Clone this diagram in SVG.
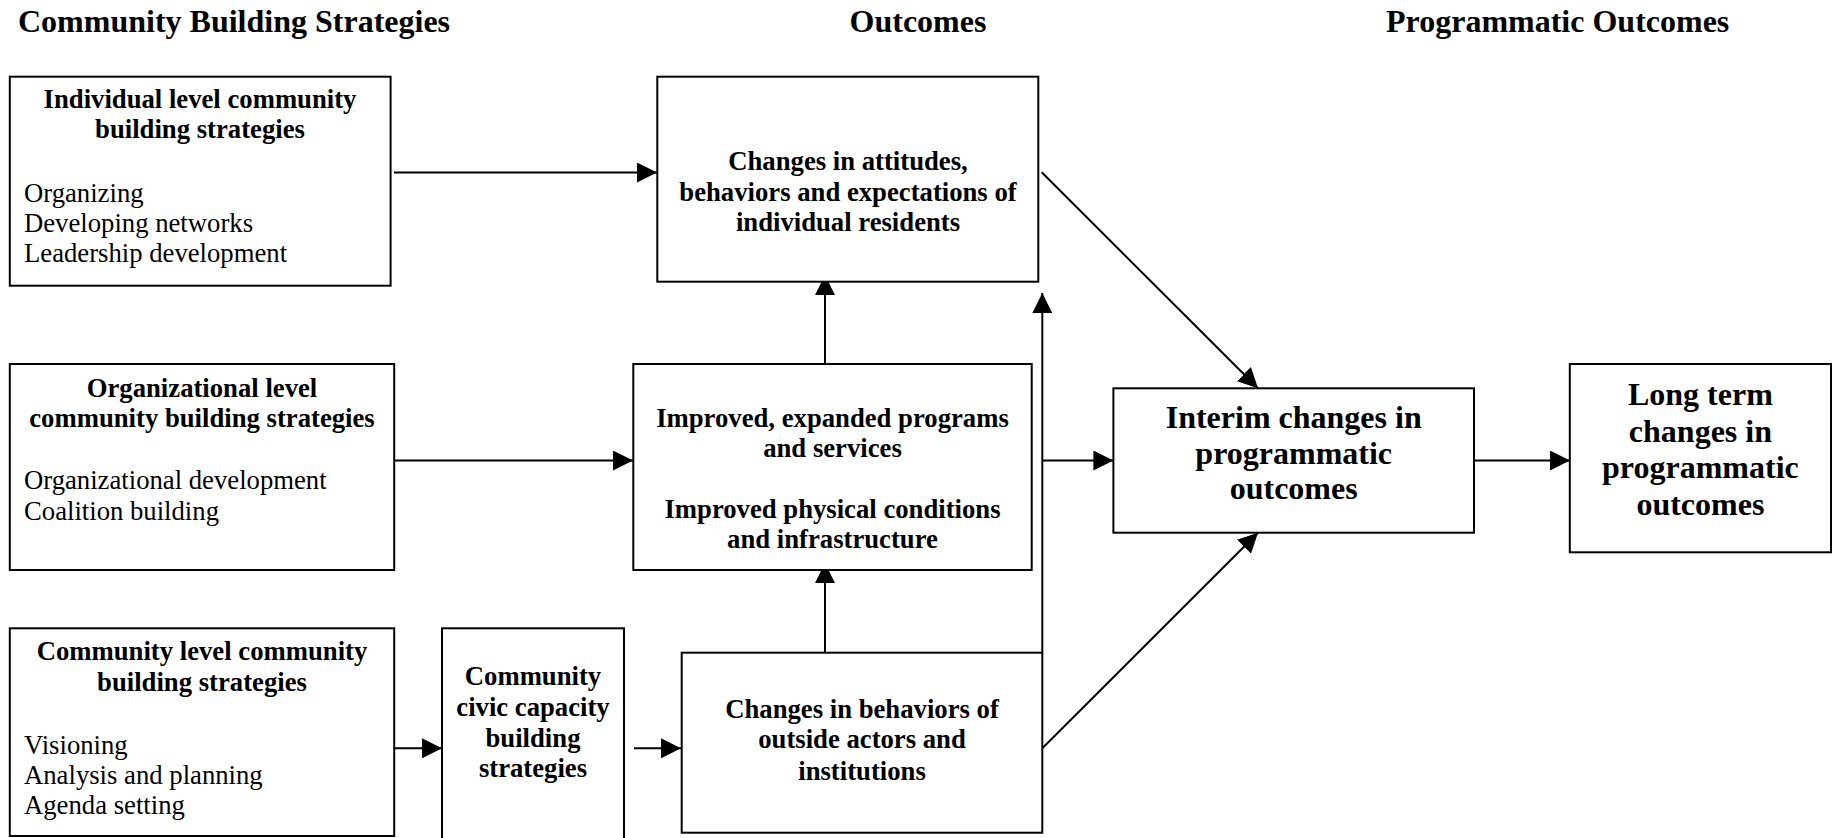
<svg xmlns="http://www.w3.org/2000/svg" width="1845" height="838" viewBox="0 0 1845 838">
<style>
text{font-family:"Liberation Serif","Times New Roman",serif;fill:#000}
.h{font-size:32px;font-weight:bold}
.b{font-size:26.7px;font-weight:bold}
.r{font-size:26.7px}
.L{font-size:32px;font-weight:bold}
.c{text-anchor:middle}
rect{fill:#fff;stroke:#000;stroke-width:2}
.con line{stroke:#000;stroke-width:2;fill:none}
</style>
<defs>
<marker id="ah" markerUnits="userSpaceOnUse" markerWidth="20" markerHeight="20" refX="20" refY="10" orient="auto" viewBox="0 0 20 20">
<path d="M0,0 L20,10 L0,20 z" fill="#000"/>
</marker>
</defs>
<rect x="0" y="0" width="1845" height="838" style="stroke:none"/>
<g id="headers">
<text class="h" x="18" y="32">Community Building Strategies</text>
<text class="h c" x="918" y="32">Outcomes</text>
<text class="h" x="1386" y="32">Programmatic Outcomes</text>
</g>
<g class="con" id="connectors">
<line x1="394" y1="172.5" x2="657" y2="172.5" marker-end="url(#ah)"/>
<line x1="394" y1="460.5" x2="633" y2="460.5" marker-end="url(#ah)"/>
<line x1="394" y1="748.3" x2="442" y2="748.3" marker-end="url(#ah)"/>
<line x1="634" y1="748.3" x2="681" y2="748.3" marker-end="url(#ah)"/>
<line x1="825" y1="364" x2="825" y2="275" marker-end="url(#ah)"/>
<line x1="825" y1="652.7" x2="825" y2="563" marker-end="url(#ah)"/>
<line x1="1042.3" y1="652.7" x2="1042.3" y2="293" marker-end="url(#ah)"/>
<line x1="1042.3" y1="460.5" x2="1113.4" y2="460.5" marker-end="url(#ah)"/>
<line x1="1041.7" y1="172.3" x2="1258" y2="388.3" marker-end="url(#ah)"/>
<line x1="1042.3" y1="748.3" x2="1258" y2="532.7" marker-end="url(#ah)"/>
<line x1="1474" y1="460.5" x2="1570" y2="460.5" marker-end="url(#ah)"/>
</g>
<g id="nodeA">
<rect x="9.8" y="76.7" width="380.8" height="209"/>
<text class="b c" x="200" y="108.3">Individual level community</text>
<text class="b c" x="200" y="138.3">building strategies</text>
<text class="r" x="24" y="202">Organizing</text>
<text class="r" x="24" y="232">Developing networks</text>
<text class="r" x="24" y="262">Leadership development</text>
</g>
<g id="nodeB">
<rect x="657.3" y="76.7" width="381" height="205"/>
<text class="b c" x="848" y="170">Changes in attitudes,</text>
<text class="b c" x="848" y="200.5">behaviors and expectations of</text>
<text class="b c" x="848" y="231">individual residents</text>
</g>
<g id="nodeC">
<rect x="9.8" y="364" width="384.4" height="206"/>
<text class="b c" x="202" y="396.7">Organizational level</text>
<text class="b c" x="202" y="427.3">community building strategies</text>
<text class="r" x="24" y="489">Organizational development</text>
<text class="r" x="24" y="519.5">Coalition building</text>
</g>
<g id="nodeD">
<rect x="633.3" y="364" width="398.4" height="206"/>
<text class="b c" x="832.5" y="426.7">Improved, expanded programs</text>
<text class="b c" x="832.5" y="456.7">and services</text>
<text class="b c" x="832.5" y="518.3">Improved physical conditions</text>
<text class="b c" x="832.5" y="548.3">and infrastructure</text>
</g>
<g id="nodeE">
<rect x="1113.4" y="388.3" width="360.6" height="144.4"/>
<text class="L c" x="1293.7" y="428.3">Interim changes in</text>
<text class="L c" x="1293.7" y="463.8">programmatic</text>
<text class="L c" x="1293.7" y="499.3">outcomes</text>
</g>
<g id="nodeF">
<rect x="1569.8" y="364" width="261.2" height="188.3"/>
<text class="L c" x="1700.4" y="405">Long term</text>
<text class="L c" x="1700.4" y="441.7">changes in</text>
<text class="L c" x="1700.4" y="478.3">programmatic</text>
<text class="L c" x="1700.4" y="515">outcomes</text>
</g>
<g id="nodeG">
<rect x="9.8" y="628.3" width="384.4" height="207.7"/>
<text class="b c" x="202" y="660">Community level community</text>
<text class="b c" x="202" y="690.7">building strategies</text>
<text class="r" x="24" y="754">Visioning</text>
<text class="r" x="24" y="784">Analysis and planning</text>
<text class="r" x="24" y="814">Agenda setting</text>
</g>
<g id="nodeH">
<rect x="442" y="628.3" width="182" height="220"/>
<text class="b c" x="533" y="685">Community</text>
<text class="b c" x="533" y="715.7">civic capacity</text>
<text class="b c" x="533" y="746.7">building</text>
<text class="b c" x="533" y="776.7">strategies</text>
</g>
<g id="nodeI">
<rect x="681.7" y="652.7" width="360.6" height="180"/>
<text class="b c" x="862" y="718.3">Changes in behaviors of</text>
<text class="b c" x="862" y="748.3">outside actors and</text>
<text class="b c" x="862" y="780">institutions</text>
</g>
</svg>
